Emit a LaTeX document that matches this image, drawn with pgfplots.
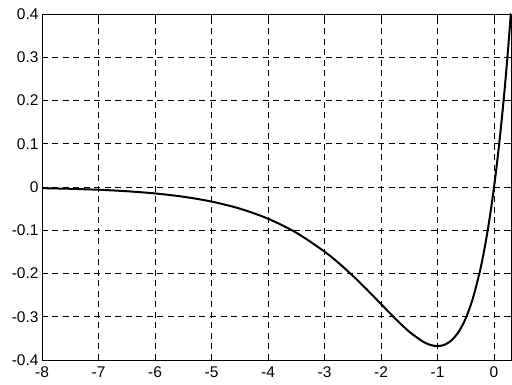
\documentclass[border=0pt]{standalone}
\usepackage{fontspec}
\setmainfont{Liberation Sans}
\usepackage{pgfplots}
\pgfplotsset{compat=1.18}
\begin{document}
\begin{tikzpicture}[x=1pt,y=1pt]
\begin{axis}[
  at={(0pt,0pt)}, anchor=south west,
  scale only axis, width=469pt, height=346pt,
  xmin=-8, xmax=0.3, ymin=-0.4, ymax=0.4,
  xtick={-8,-7,-6,-5,-4,-3,-2,-1,0},
  xticklabels={-8,-7,-6,-5,-4,-3,-2,-1,0},
  ytick={-0.4,-0.3,-0.2,-0.1,0,0.1,0.2,0.3,0.4},
  yticklabels={-0.4,-0.3,-0.2,-0.1,0,0.1,0.2,0.3,0.4},
  tick align=inside, major tick length=5pt,
  tick style={black, line width=0.6pt},
  grid=major, major grid style={black, dashed, line width=0.5pt, dash pattern=on 6pt off 4.5pt},
  axis line style={black, line width=0.8pt},
  ticklabel style={font=\fontsize{15.5}{17}\selectfont},
  xticklabel style={yshift=-3.5pt},
  yticklabel style={xshift=0pt},
]
\addplot[black, line width=2pt, smooth] coordinates {
(-8,-0.00268) (-7.5,-0.00415) (-7,-0.00638) (-6.5,-0.00977) (-6,-0.01487)
(-5.5,-0.02248) (-5,-0.03369) (-4.5,-0.04999) (-4,-0.07326) (-3.5,-0.10569)
(-3,-0.14936) (-2.75,-0.17580) (-2.5,-0.20521) (-2.25,-0.23715) (-2,-0.27067)
(-1.75,-0.30410) (-1.5,-0.33470) (-1.25,-0.35813) (-1.125,-0.36523) (-1,-0.36788)
(-0.875,-0.36475) (-0.75,-0.35428) (-0.625,-0.33454) (-0.5,-0.30327)
(-0.375,-0.25773) (-0.25,-0.19470) (-0.1875,-0.15543) (-0.125,-0.11031)
(-0.0625,-0.05871) (0,0) (0.05,0.05256) (0.1,0.11052) (0.15,0.17428)
(0.2,0.24428) (0.25,0.32101) (0.3,0.40496)
};
\end{axis}
\useasboundingbox (-42pt,-25pt) rectangle (470pt,360pt);
\end{tikzpicture}
\end{document}
